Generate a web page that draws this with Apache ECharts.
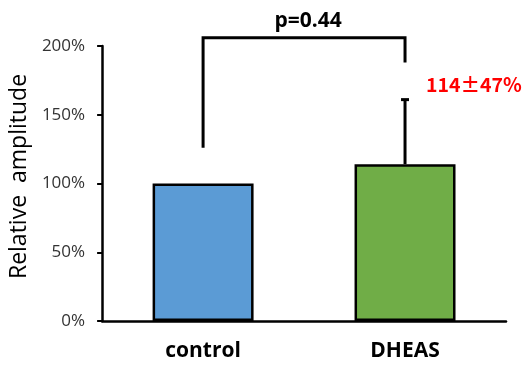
<!DOCTYPE html>
<html><head><meta charset="utf-8">
<script src="https://cdn.jsdelivr.net/npm/echarts@6/dist/echarts.min.js"></script>
<style>html,body{margin:0;padding:0;background:#fff}#c{width:526px;height:365px}</style>
</head><body><div id="c"></div>
<script>
var categories = ['control', 'DHEAS'];
var values = [100, 114];
var errors = [0, 47];
var yTicks = [0, 50, 100, 150, 200];
var barColors = ['#5B9BD5', '#70AD47'];
var pText = 'p=0.44';
var bracketY = 206;
var bracketLegs = [126, 188];
var annotText = '114\u00B147%';

var FONT = 'Open Sans';
var chart = echarts.init(document.getElementById('c'));
chart.setOption({
  animation: false,
  grid: {left: 100, right: 20, top: 46, bottom: 44},
  xAxis: {
    type: 'category', data: categories,
    axisLine: {lineStyle: {color: '#000', width: 2.5}},
    axisTick: {show: false},
    axisLabel: {fontFamily: FONT, fontWeight: 'bold', fontSize: 21, color: '#000', margin: 20}
  },
  yAxis: {
    type: 'value', min: 0, max: 200, interval: 50,
    name: 'Relative  amplitude', nameLocation: 'middle', nameGap: 65,
    nameTextStyle: {fontFamily: FONT, fontSize: 23, color: '#000', padding: [0, 0, 0, 14]},
    axisLine: {show: true, lineStyle: {color: '#000', width: 2.5}},
    axisTick: {show: true, length: 5, lineStyle: {color: '#000', width: 2}},
    splitLine: {show: false},
    axisLabel: {fontFamily: FONT, fontSize: 17, color: '#333', margin: 17,
      formatter: function (v) { return v + '%'; }}
  },
  series: [
    {
      type: 'bar', barWidth: '50%',
      data: values.map(function (v, i) {
        return {value: v, itemStyle: {color: barColors[i], borderColor: '#000', borderWidth: 2.5}};
      }),
      z: 2
    },
    {
      type: 'custom', clip: false, z: 3,
      data: values.map(function (v, i) { return [i, v, errors[i]]; }),
      renderItem: function (params, api) {
        var e = api.value(2);
        if (!e) return null;
        var x = api.coord([api.value(0), 0])[0];
        var y0 = api.coord([0, api.value(1)])[1];
        var y1 = api.coord([0, api.value(1) + e])[1];
        return {type: 'group', children: [
          {type: 'line', shape: {x1: x, y1: y0, x2: x, y2: y1}, style: {stroke: '#000', lineWidth: 3}},
          {type: 'line', shape: {x1: x - 4, y1: y1, x2: x + 4, y2: y1}, style: {stroke: '#000', lineWidth: 3}}
        ]};
      }
    },
    {
      type: 'custom', clip: false, z: 3,
      data: [[0, 1]],
      renderItem: function (params, api) {
        var xa = api.coord([0, 0])[0];
        var xb = api.coord([1, 0])[0];
        var yt = api.coord([0, bracketY])[1];
        var ya = api.coord([0, bracketLegs[0]])[1];
        var yb = api.coord([0, bracketLegs[1]])[1];
        return {type: 'group', children: [
          {type: 'polyline', shape: {points: [[xa, ya], [xa, yt], [xb, yt], [xb, yb]]},
            style: {stroke: '#000', lineWidth: 3, fill: null}},
          {type: 'text', style: {text: pText, x: (xa + xb) / 2 + 4, y: yt - 6,
            fontFamily: FONT, fontWeight: 'bold', fontSize: 21, fill: '#000',
            textAlign: 'center', textVerticalAlign: 'bottom'}}
        ]};
      }
    },
    {
      type: 'custom', clip: false, z: 3,
      data: [[1, values[1] + errors[1]]],
      renderItem: function (params, api) {
        var p = api.coord([1, 172]);
        return {type: 'text', style: {text: annotText, x: p[0] + 21, y: p[1],
          fontFamily: 'Noto Sans CJK SC', fontWeight: 'bold', fontSize: 19.5, fill: '#FF0000',
          textAlign: 'left', textVerticalAlign: 'middle'}};
      }
    }
  ]
});
</script>
</body></html>
